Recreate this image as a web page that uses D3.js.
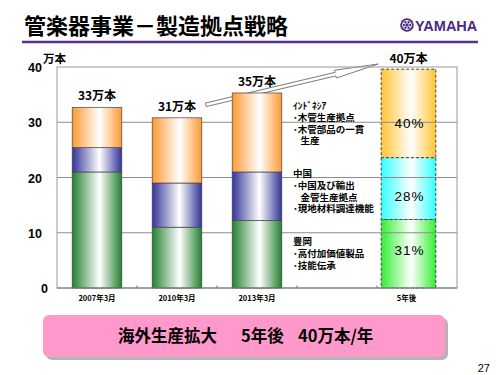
<!DOCTYPE html>
<html>
<head>
<meta charset="utf-8">
<script src="https://cdn.jsdelivr.net/npm/d3@7"></script>
<style>
  body { margin: 0; background: #fff; }
  text { font-family: "Liberation Sans", Arial, sans-serif; }
  .jp { font-family: "Noto Sans CJK JP", sans-serif; }
</style>
</head>
<body>
<div id="chart"></div>
<script>
// categories on the x axis (4th slot holds the notes)
var categories = ["2007年3月", "2010年3月", "2013年3月", "", "5年後"];
var actualCats = ["2007年3月", "2010年3月", "2013年3月"];

// production (万本) per site
var toyooka   = [21.0, 11.0, 12.2];
var china     = [4.4, 8.0, 8.8];
var indonesia = [7.3, 11.8, 14.3];
var totalLabels = ["33万本", "31万本", "35万本"];

// 5 years later
var futureCat = "5年後";
var futureTotal = 40;
var futureShares = [31, 28, 40];   // toyooka, china, indonesia (%)
var futureLabel = "40万本";

var yTicks = [0, 10, 20, 30, 40];

// site notes, grouped
var noteGroups = [
  ["ｲﾝﾄﾞﾈｼｱ", "･木管生産拠点", "･木管部品の一貫", "　生産"],
  ["中国", "･中国及び輸出", "　金管生産拠点", "･現地材料調達機能"],
  ["豊岡", "･高付加価値製品", "･技能伝承"]
];

var W = 500, H = 375;
var svg = d3.select("#chart").append("svg")
    .attr("width", W).attr("height", H);

var defs = svg.append("defs");
function grad(id, color) {
  var g = defs.append("linearGradient").attr("id", id)
      .attr("x1", "0%").attr("x2", "100%").attr("y1", "0%").attr("y2", "0%");
  g.append("stop").attr("offset", "0%").attr("stop-color", color);
  g.append("stop").attr("offset", "55%").attr("stop-color", "#fff");
  g.append("stop").attr("offset", "100%").attr("stop-color", color);
}
grad("gGreen", "#23802e");
grad("gBlue", "#333399");
grad("gOrange", "#ff9933");
grad("fGreen", "#33ee33");
grad("fCyan", "#33ffff");
grad("fGold", "#ffc433");

// title
svg.append("text").attr("class", "jp")
    .attr("x", 24).attr("y", 34)
    .attr("font-size", 22).attr("font-weight", 700)
    .text("管楽器事業－製造拠点戦略");
svg.append("line")
    .attr("x1", 22).attr("x2", 478).attr("y1", 42).attr("y2", 42)
    .attr("stroke", "#55308d").attr("stroke-width", 2.5);

// logo
var logo = svg.append("g").attr("transform", "translate(407,25)");
logo.append("circle").attr("r", 6.8).attr("fill", "#4b2a85");
logo.append("circle").attr("r", 4.6).attr("fill", "none").attr("stroke", "#fff").attr("stroke-width", 0.8);
[0, 60, 120].forEach(function(a) {
  logo.append("line").attr("x1", 0).attr("y1", -4.5).attr("x2", 0).attr("y2", 4.5)
      .attr("stroke", "#fff").attr("stroke-width", 1.2)
      .attr("transform", "rotate(" + a + ")");
});
logo.append("circle").attr("r", 1.6).attr("fill", "#4b2a85");
svg.append("text")
    .attr("x", 415).attr("y", 30.5)
    .attr("font-size", 14.5).attr("font-weight", 700)
    .attr("fill", "#4b2a85")
    .text("YAMAHA");

// scales
var x = d3.scaleBand().domain(categories).range([57, 457])
    .paddingInner(0.38).paddingOuter(0.19);
var y = d3.scaleLinear().domain([0, 40]).range([288, 67]);

// future bar (drawn under gridlines)
var fx = x(futureCat) - 11, fw = x.bandwidth() + 5;
var futureVals = futureShares.map(function(s) { return futureTotal * s / 100; });
var fills = ["url(#fGreen)", "url(#fCyan)", "url(#fGold)"];
var acc = 0;
futureVals.forEach(function(v, i) {
  svg.append("rect")
      .attr("x", fx).attr("width", fw)
      .attr("y", y(acc + v)).attr("height", y(acc) - y(acc + v))
      .attr("fill", fills[i])
      .attr("stroke", "#333").attr("stroke-width", 0.9)
      .attr("stroke-dasharray", "3,2");
  acc += v;
});

// growth arrow (from 31万本 label toward 40万本 label), behind the bars
var a0 = [x("2010年3月") + x.bandwidth() + 4, y(toyooka[1] + china[1] + indonesia[1]) - 13];
var a1 = [fx - 3, y(futureTotal) - 3];
var L = Math.hypot(a1[0] - a0[0], a1[1] - a0[1]);
var ang = Math.atan2(a1[1] - a0[1], a1[0] - a0[0]) * 180 / Math.PI;
var hl = 44, bw = 1.8, hw = 4;
var pts = [[0, -bw], [L - hl, -bw], [L - hl, -hw], [L, 0], [L - hl, hw], [L - hl, bw], [0, bw]];
svg.append("polygon")
    .attr("points", pts.map(function(p) { return p.join(","); }).join(" "))
    .attr("transform", "translate(" + a0[0] + "," + a0[1] + ") rotate(" + ang + ")")
    .attr("fill", "#fff").attr("stroke", "#777").attr("stroke-width", 0.9);

// gridlines + frame
svg.append("g").selectAll("line").data(yTicks.slice(1, 4)).enter()
  .append("line")
    .attr("x1", 57).attr("x2", 457)
    .attr("y1", function(d) { return y(d); })
    .attr("y2", function(d) { return y(d); })
    .attr("stroke", "#8c8c8c").attr("stroke-width", 1);
svg.append("rect")
    .attr("x", 57).attr("y", y(40))
    .attr("width", 400).attr("height", y(0) - y(40))
    .attr("fill", "none").attr("stroke", "#9a9a9a").attr("stroke-width", 1);

// stacked actual bars
var layers = [
  {vals: toyooka, fill: "url(#gGreen)"},
  {vals: china, fill: "url(#gBlue)"},
  {vals: indonesia, fill: "url(#gOrange)"}
];
actualCats.forEach(function(c, i) {
  var base = 0;
  layers.forEach(function(l) {
    var v = l.vals[i];
    svg.append("rect")
        .attr("x", x(c)).attr("width", x.bandwidth())
        .attr("y", y(base + v)).attr("height", y(base) - y(base + v))
        .attr("fill", l.fill)
        .attr("stroke", "#444").attr("stroke-width", 0.7);
    base += v;
  });
});

// x axis line and small ticks
svg.append("line").attr("x1", 57).attr("x2", 457)
    .attr("y1", y(0)).attr("y2", y(0))
    .attr("stroke", "#777").attr("stroke-width", 1.2);
svg.append("g").selectAll("line").data(categories.slice(1)).enter()
  .append("line")
    .attr("x1", function(d) { return x(d) - x.step() * x.paddingInner() / 2; })
    .attr("x2", function(d) { return x(d) - x.step() * x.paddingInner() / 2; })
    .attr("y1", y(0)).attr("y2", y(0) - 2.5)
    .attr("stroke", "#777");

// y tick labels
svg.append("g").selectAll("text").data(yTicks).enter()
  .append("text")
    .attr("x", function(d) { return d === 0 ? 48 : 42; })
    .attr("y", function(d) { return y(d) + 5; })
    .attr("text-anchor", "end")
    .attr("font-size", 12.5).attr("font-weight", 700)
    .text(function(d) { return d; });
svg.append("text").attr("class", "jp")
    .attr("x", 43).attr("y", 63)
    .attr("font-size", 11.5).attr("font-weight", 700)
    .text("万本");

// x tick labels
svg.append("g").selectAll("text").data(categories.filter(function(c) { return c; })).enter()
  .append("text").attr("class", "jp")
    .attr("x", function(d) { return d === futureCat ? fx + fw / 2 - 2 : x(d) + x.bandwidth() / 2; })
    .attr("y", 301)
    .attr("text-anchor", "middle")
    .attr("font-size", 7.5).attr("font-weight", 700)
    .text(function(d) { return d; });

// total labels
actualCats.forEach(function(c, i) {
  var tot = toyooka[i] + china[i] + indonesia[i];
  svg.append("text").attr("class", "jp")
      .attr("x", x(c) + x.bandwidth() / 2)
      .attr("y", y(tot) - 7)
      .attr("text-anchor", "middle")
      .attr("font-size", 12).attr("font-weight", 700)
      .text(totalLabels[i]);
});
svg.append("text").attr("class", "jp")
    .attr("x", fx + fw / 2).attr("y", y(futureTotal) - 4)
    .attr("text-anchor", "middle")
    .attr("font-size", 12).attr("font-weight", 700)
    .text(futureLabel);

// percentage labels in future bar
var pctDy = [1, 12, 15];
acc = 0;
futureVals.forEach(function(v, i) {
  svg.append("text")
      .attr("x", fx + fw / 2 + 1)
      .attr("y", y(acc + v / 2) + pctDy[i])
      .attr("text-anchor", "middle")
      .attr("font-size", 13.5).attr("letter-spacing", 1)
      .text(futureShares[i] + "%");
  acc += v;
});

// notes: one block per site
var noteTop = [109, 177, 245];
noteGroups.forEach(function(g, gi) {
  var t = svg.append("text").attr("class", "jp")
      .attr("font-size", 9.5).attr("font-weight", 700);
  g.forEach(function(line, li) {
    t.append("tspan")
        .attr("x", line.charAt(0) === "･" || li === 0 ? 293 : 291)
        .attr("y", noteTop[gi] + li * 11.8)
        .text(line);
  });
});

// bottom banner
svg.append("rect").attr("x", 46).attr("y", 318).attr("width", 402).attr("height", 42)
    .attr("rx", 6).attr("fill", "#b5b5b5");
svg.append("rect").attr("x", 43).attr("y", 315).attr("width", 402).attr("height", 42)
    .attr("rx", 6).attr("fill", "#ff99cc");
var banner = [["海外生産拡大", 118], ["5年後", 241], ["40万本/年", 298]];
banner.forEach(function(b) {
  svg.append("text").attr("class", "jp")
      .attr("x", b[1]).attr("y", 342)
      .attr("font-size", 16.5).attr("font-weight", 700)
      .text(b[0]);
});

svg.append("text")
    .attr("x", 490).attr("y", 372)
    .attr("text-anchor", "end")
    .attr("font-size", 11)
    .text("27");
</script>
</body>
</html>
